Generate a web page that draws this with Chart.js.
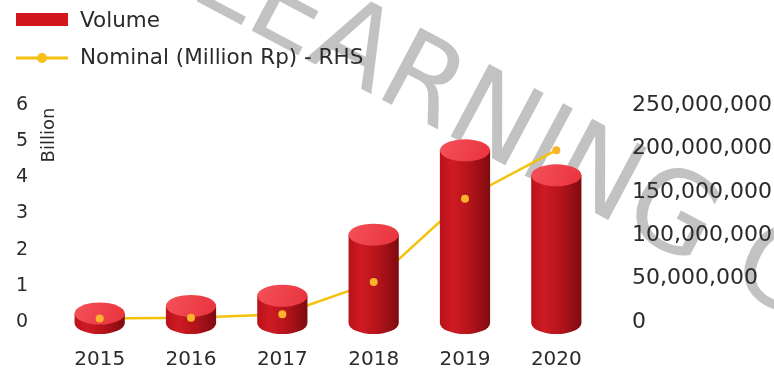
<!DOCTYPE html>
<html>
<head>
<meta charset="utf-8">
<script src="https://cdn.jsdelivr.net/npm/chart.js@4.4.0/dist/chart.umd.min.js"></script>
<style>
  html, body { margin: 0; padding: 0; background: #ffffff; }
  #wrap { width: 774px; height: 374px; }
</style>
</head>
<body>
<div id="wrap"><canvas id="chart"></canvas></div>
<script>
// e-money transactions, yearly
const years = ['2015', '2016', '2017', '2018', '2019', '2020'];
const volumeBillion = [0.54, 0.75, 1.03, 2.72, 5.05, 4.36];
const nominalMillionRp = [4000000, 5000000, 9000000, 46000000, 142000000, 198000000];
const volumeTicks = [0, 1, 2, 3, 4, 5, 6];
const nominalTicks = [0, 50000000, 100000000, 150000000, 200000000, 250000000];

const FONT = "'DejaVu Sans', sans-serif";
const TEXT = '#2b2b2b';
const LINE_YELLOW = '#f4c20d';
const DOT_YELLOW = '#f8b52c';

// faint diagonal stamp behind everything
const watermark = {
  id: 'watermark',
  beforeDraw(chart) {
    const ctx = chart.ctx;
    ctx.save();
    ctx.fillStyle = '#ffffff';
    ctx.fillRect(0, 0, chart.width, chart.height);
    ctx.translate(187, -4);
    ctx.rotate(28 * Math.PI / 180);
    ctx.font = "112px " + FONT;
    ctx.fillStyle = '#c2c2c2';
    ctx.textBaseline = 'alphabetic';
    ctx.fillText('LEARNING C', 0, 0);
    ctx.restore();
  }
};

function drawCylinder(ctx, bar) {
  const p = bar.getProps(['x', 'y', 'base', 'width'], true);
  const rx = p.width / 2;
  const ry = 11;
  const botY = p.base + 1;
  const topY = Math.min(p.y + ry, botY);
  const left = p.x - rx, right = p.x + rx;

  const body = ctx.createLinearGradient(left, 0, right, 0);
  body.addColorStop(0, '#b8121b');
  body.addColorStop(0.25, '#cf1b23');
  body.addColorStop(0.6, '#b3131a');
  body.addColorStop(1, '#7e0b10');
  ctx.beginPath();
  ctx.moveTo(left, topY);
  ctx.lineTo(left, botY);
  ctx.ellipse(p.x, botY, rx, ry, 0, Math.PI, 0, true);
  ctx.lineTo(right, topY);
  ctx.closePath();
  ctx.fillStyle = body;
  ctx.fill();

  const top = ctx.createLinearGradient(left, topY - ry, right, topY + ry);
  top.addColorStop(0, '#f4515a');
  top.addColorStop(1, '#e8333c');
  ctx.beginPath();
  ctx.ellipse(p.x, topY, rx, ry, 0, 0, Math.PI * 2);
  ctx.fillStyle = top;
  ctx.fill();
}

const cylinders = {
  id: 'cylinders',
  afterDatasetDraw(chart, args) {
    if (args.index !== 0) return;
    const ctx = chart.ctx;
    ctx.save();
    args.meta.data.forEach(bar => drawCylinder(ctx, bar));
    ctx.restore();
  },
  afterDatasetsDraw(chart) {
    // nominal markers sit on top of the cylinders
    const ctx = chart.ctx;
    ctx.save();
    ctx.fillStyle = DOT_YELLOW;
    chart.getDatasetMeta(1).data.forEach(pt => {
      ctx.beginPath();
      ctx.arc(pt.x, pt.y, 4, 0, Math.PI * 2);
      ctx.fill();
    });
    ctx.restore();
  }
};

// legend and the "Billion" unit label
const annotations = {
  id: 'annotations',
  afterDraw(chart) {
    const ctx = chart.ctx;
    ctx.save();
    ctx.fillStyle = '#d2171f';
    ctx.fillRect(16, 13, 52, 13);

    ctx.strokeStyle = LINE_YELLOW;
    ctx.lineWidth = 3;
    ctx.beginPath();
    ctx.moveTo(16, 58);
    ctx.lineTo(68, 58);
    ctx.stroke();
    ctx.fillStyle = '#f6c019';
    ctx.beginPath();
    ctx.arc(42, 58, 5, 0, Math.PI * 2);
    ctx.fill();

    ctx.fillStyle = TEXT;
    ctx.font = "21.5px " + FONT;
    ctx.textAlign = 'left';
    ctx.textBaseline = 'alphabetic';
    ctx.fillText(chart.data.datasets[0].label, 80, 27);
    ctx.fillText(chart.data.datasets[1].label, 80, 64);

    ctx.translate(49, 135);
    ctx.rotate(-Math.PI / 2);
    ctx.font = "18px " + FONT;
    ctx.textAlign = 'center';
    ctx.textBaseline = 'middle';
    ctx.fillText('Billion', 0, 0);
    ctx.restore();
  }
};

new Chart(document.getElementById('chart'), {
  type: 'bar',
  data: {
    labels: years,
    datasets: [
      {
        label: 'Volume',
        data: volumeBillion,
        yAxisID: 'y',
        backgroundColor: 'rgba(0,0,0,0)',
        borderWidth: 0,
        barPercentage: 0.55,
        categoryPercentage: 1,
        order: 1
      },
      {
        type: 'line',
        label: 'Nominal (Million Rp) - RHS',
        data: nominalMillionRp,
        yAxisID: 'y1',
        borderColor: LINE_YELLOW,
        borderWidth: 2.5,
        pointRadius: 0,
        tension: 0,
        order: 2
      }
    ]
  },
  options: {
    responsive: true,
    maintainAspectRatio: false,
    animation: false,
    layout: { padding: { top: 105, left: 0, right: 0, bottom: 0 } },
    plugins: {
      legend: { display: false },
      tooltip: { enabled: false }
    },
    scales: {
      x: {
        grid: { display: false, drawTicks: false },
        border: { display: false },
        ticks: { color: TEXT, font: { family: FONT, size: 20 }, padding: 26 },
        afterFit(scale) { scale.height = 52; }
      },
      y: {
        position: 'left',
        min: 0,
        max: 6,
        grid: { display: false, drawTicks: false },
        border: { display: false },
        afterBuildTicks(scale) { scale.ticks = volumeTicks.map(v => ({ value: v })); },
        ticks: { color: TEXT, font: { family: FONT, size: 19 }, padding: 26 },
        afterFit(scale) { scale.width = 54; }
      },
      y1: {
        position: 'right',
        min: 0,
        max: 250000000,
        grid: { display: false, drawTicks: false },
        border: { display: false },
        afterBuildTicks(scale) { scale.ticks = nominalTicks.map(v => ({ value: v })); },
        ticks: {
          color: TEXT,
          font: { family: FONT, size: 22 },
          padding: 30,
          callback: v => v.toLocaleString('en-US')
        },
        afterFit(scale) { scale.width = 172; }
      }
    }
  },
  plugins: [watermark, cylinders, annotations]
});
</script>
</body>
</html>
